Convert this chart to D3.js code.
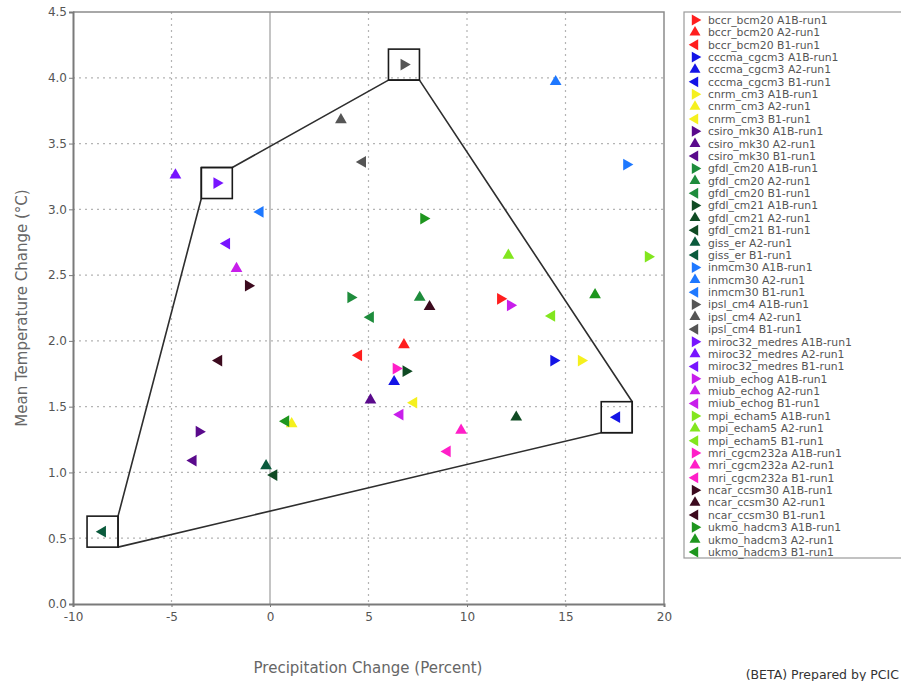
<!DOCTYPE html>
<html>
<head>
<meta charset="utf-8">
<script src="https://cdn.jsdelivr.net/npm/d3@7"></script>
<style>
  html, body { margin: 0; padding: 0; background: #fff; }
  svg { display: block; font-family: "DejaVu Sans", Verdana, sans-serif; }
</style>
</head>
<body>
<svg id="chart" width="901" height="681"></svg>
<script>
// GCM runs: model, emissions scenario, colour
const models = ["bccr_bcm20", "cccma_cgcm3", "cnrm_cm3", "csiro_mk30", "gfdl_cm20", "gfdl_cm21",
  "giss_er", "inmcm30", "ipsl_cm4", "miroc32_medres", "miub_echog", "mpi_echam5",
  "mri_cgcm232a", "ncar_ccsm30", "ukmo_hadcm3"];
const modelColors = ["#ff1e1e", "#1414e6", "#f5f01e", "#5a0a8c", "#1e8c3c", "#0f4a23",
  "#0a5a3c", "#1e78ff", "#555555", "#7814ff", "#c81eeb", "#82e61e",
  "#ff1ec8", "#3c0a1e", "#1e961e"];
const modelScenarios = [
  ["A1B", "A2", "B1"], ["A1B", "A2", "B1"], ["A1B", "A2", "B1"], ["A1B", "A2", "B1"],
  ["A1B", "A2", "B1"], ["A1B", "A2", "B1"], ["A2", "B1"], ["A1B", "A2", "B1"],
  ["A1B", "A2", "B1"], ["A1B", "A2", "B1"], ["A1B", "A2", "B1"], ["A1B", "A2", "B1"],
  ["A1B", "A2", "B1"], ["A1B", "A2", "B1"], ["A1B", "A2", "B1"]
];

// Projected changes per run, in legend order
const precipChange = [
  11.7, 6.8, 4.5,
  14.4, 6.3, 17.6,
  15.8, 1.1, 7.3,
  -3.6, 5.1, -3.9,
  4.1, 7.6, 5.1,
  6.9, 12.5, 0.2,
  -0.2, -8.5,
  18.1, 14.5, -0.5,
  6.8, 3.6, 4.7,
  -2.7, -4.8, -2.2,
  12.2, -1.7, 6.6,
  19.2, 12.1, 14.3,
  6.4, 9.7, 9.0,
  -1.1, 8.1, -2.6,
  7.8, 16.5, 0.8
];
const tempChange = [
  2.32, 1.97, 1.89,
  1.85, 1.69, 1.42,
  1.85, 1.37, 1.53,
  1.31, 1.55, 1.09,
  2.33, 2.33, 2.18,
  1.77, 1.42, 0.98,
  1.05, 0.55,
  3.34, 3.97, 2.98,
  4.10, 3.68, 3.36,
  3.20, 3.26, 2.74,
  2.27, 2.55, 1.44,
  2.64, 2.65, 2.19,
  1.79, 1.32, 1.16,
  2.42, 2.26, 1.85,
  2.93, 2.35, 1.39
];

// Envelope outline: boxed bounding runs and the box corner each vertex sits on
const envelopeRuns = ["miroc32_medres A1B-run1", "ipsl_cm4 A1B-run1", "ipsl_cm4 A1B-run1",
  "cccma_cgcm3 B1-run1", "cccma_cgcm3 B1-run1", "cccma_cgcm3 B1-run1",
  "giss_er B1-run1", "giss_er B1-run1",
  "miroc32_medres A1B-run1", "miroc32_medres A1B-run1"];
const envelopeCorners = ["tr", "bl", "br", "tr", "br", "bl", "br", "tr", "bl", "tl"];

const xTicks = [-10, -5, 0, 5, 10, 15, 20];
const yTicks = [0, 0.5, 1.0, 1.5, 2.0, 2.5, 3.0, 3.5, 4.0, 4.5];
const xTitle = "Precipitation Change (Percent)";
const yTitle = "Mean Temperature Change (°C)";
const footnote = "(BETA) Prepared by PCIC";

// Build the run table
const runs = [];
models.forEach((m, i) => {
  modelScenarios[i].forEach(s => {
    const k = runs.length;
    runs.push({
      label: `${m} ${s}-run1`,
      scenario: s,
      color: modelColors[i],
      precip: precipChange[k],
      temp: tempChange[k]
    });
  });
});
const byLabel = new Map(runs.map(r => [r.label, r]));

const svg = d3.select("#chart");
const plotLeft = 73, plotRight = 664, plotTop = 12, plotBottom = 604;

const x = d3.scaleLinear().domain([-10, 20]).range([plotLeft, plotRight]);
const y = d3.scaleLinear().domain([0, 4.5]).range([plotBottom, plotTop]);

// Grid
const grid = svg.append("g");
grid.selectAll("line.gx").data(xTicks.filter(v => v !== 0 && v !== -10 && v !== 20)).join("line")
  .attr("x1", d => x(d)).attr("x2", d => x(d)).attr("y1", plotTop).attr("y2", plotBottom)
  .attr("stroke", "#b4b4b4").attr("stroke-width", 1.2).attr("stroke-dasharray", "2,4");
grid.selectAll("line.gy").data(yTicks.filter(v => v !== 0 && v !== 4.5)).join("line")
  .attr("x1", plotLeft).attr("x2", plotRight).attr("y1", d => y(d)).attr("y2", d => y(d))
  .attr("stroke", "#b4b4b4").attr("stroke-width", 1.2).attr("stroke-dasharray", "2,4");

// Zero precipitation line
svg.append("line")
  .attr("x1", x(0)).attr("x2", x(0)).attr("y1", plotTop).attr("y2", plotBottom)
  .attr("stroke", "#b0b0b0").attr("stroke-width", 1.5);

// Frame (top and right)
svg.append("path")
  .attr("d", `M${plotLeft},${plotTop}H${plotRight}V${plotBottom}`)
  .attr("fill", "none").attr("stroke", "#8c8c8c").attr("stroke-width", 1.5);

// Axes
const xAxis = svg.append("g").attr("transform", `translate(0,${plotBottom})`)
  .call(d3.axisBottom(x).tickValues(xTicks).tickSize(3).tickFormat(d => String(d)));
const yAxis = svg.append("g").attr("transform", `translate(${plotLeft},0)`)
  .call(d3.axisLeft(y).tickValues(yTicks).tickSize(4).tickFormat(d3.format(".1f")));
[xAxis, yAxis].forEach(a => {
  a.select(".domain").attr("stroke", "#7a7a7a").attr("stroke-width", 2);
  a.selectAll(".tick line").attr("stroke", "#7a7a7a");
  a.selectAll(".tick text").attr("fill", "#555").style("font-size", "12px")
    .style("font-family", "'DejaVu Sans', Verdana, sans-serif");
});
xAxis.selectAll(".tick text").attr("dy", "0.92em");
yAxis.selectAll(".tick text").attr("dx", "1px");

// Axis titles
svg.append("text")
  .attr("x", 368).attr("y", 673).attr("text-anchor", "middle")
  .attr("fill", "#666").style("font-size", "15px").text(xTitle);
svg.append("text")
  .attr("transform", `translate(27,${(plotTop + plotBottom) / 2}) rotate(-90)`)
  .attr("text-anchor", "middle")
  .attr("fill", "#666").style("font-size", "15px").text(yTitle);

// Envelope boxes and outline
const half = 15.5;
const boxedRuns = Array.from(new Set(envelopeRuns)).map(l => byLabel.get(l));
const cornerOffset = { tl: [-1, -1], tr: [1, -1], br: [1, 1], bl: [-1, 1] };
const outline = envelopeRuns.map((l, i) => {
  const r = byLabel.get(l);
  const [dx, dy] = cornerOffset[envelopeCorners[i]];
  return [x(r.precip) + dx * half, y(r.temp) + dy * half];
});
svg.append("path")
  .attr("d", d3.line()(outline) + "Z")
  .attr("fill", "none").attr("stroke", "#2e2e2e").attr("stroke-width", 1.6)
  .attr("stroke-linejoin", "round");
svg.selectAll("rect.box").data(boxedRuns).join("rect")
  .attr("x", d => x(d.precip) - half).attr("y", d => y(d.temp) - half)
  .attr("width", half * 2).attr("height", half * 2)
  .attr("fill", "none").attr("stroke", "#1a1a1a").attr("stroke-width", 1.6);

// Markers: A1B right, A2 up, B1 left
const rot = { A1B: 90, A2: 0, B1: -90 };
const tri = d3.symbol(d3.symbolTriangle, 60);
svg.append("g").selectAll("path").data(runs).join("path")
  .attr("d", tri)
  .attr("transform", d => `translate(${x(d.precip)},${y(d.temp)}) rotate(${rot[d.scenario]})`)
  .attr("fill", d => d.color);

// Legend
const lg = svg.append("g");
lg.append("rect").attr("x", 684).attr("y", 12).attr("width", 230).attr("height", 546)
  .attr("fill", "#fff").attr("stroke", "#9a9a9a").attr("stroke-width", 1.2);
const rowY = d3.scaleLinear().domain([0, runs.length - 1]).range([20, 552]);
const rows = lg.selectAll("g.row").data(runs).join("g")
  .attr("transform", (d, i) => `translate(0,${rowY(i)})`);
rows.append("path")
  .attr("d", d3.symbol(d3.symbolTriangle, 52))
  .attr("transform", d => `translate(695,0) rotate(${rot[d.scenario]})`)
  .attr("fill", d => d.color);
rows.append("text")
  .attr("x", 708).attr("dy", "0.36em")
  .attr("fill", "#555").style("font-size", "10.8px")
  .text(d => d.label);

// Footnote
svg.append("text")
  .attr("x", 899).attr("y", 679).attr("text-anchor", "end")
  .attr("fill", "#333").style("font-size", "12.5px").text(footnote);
</script>
</body>
</html>
